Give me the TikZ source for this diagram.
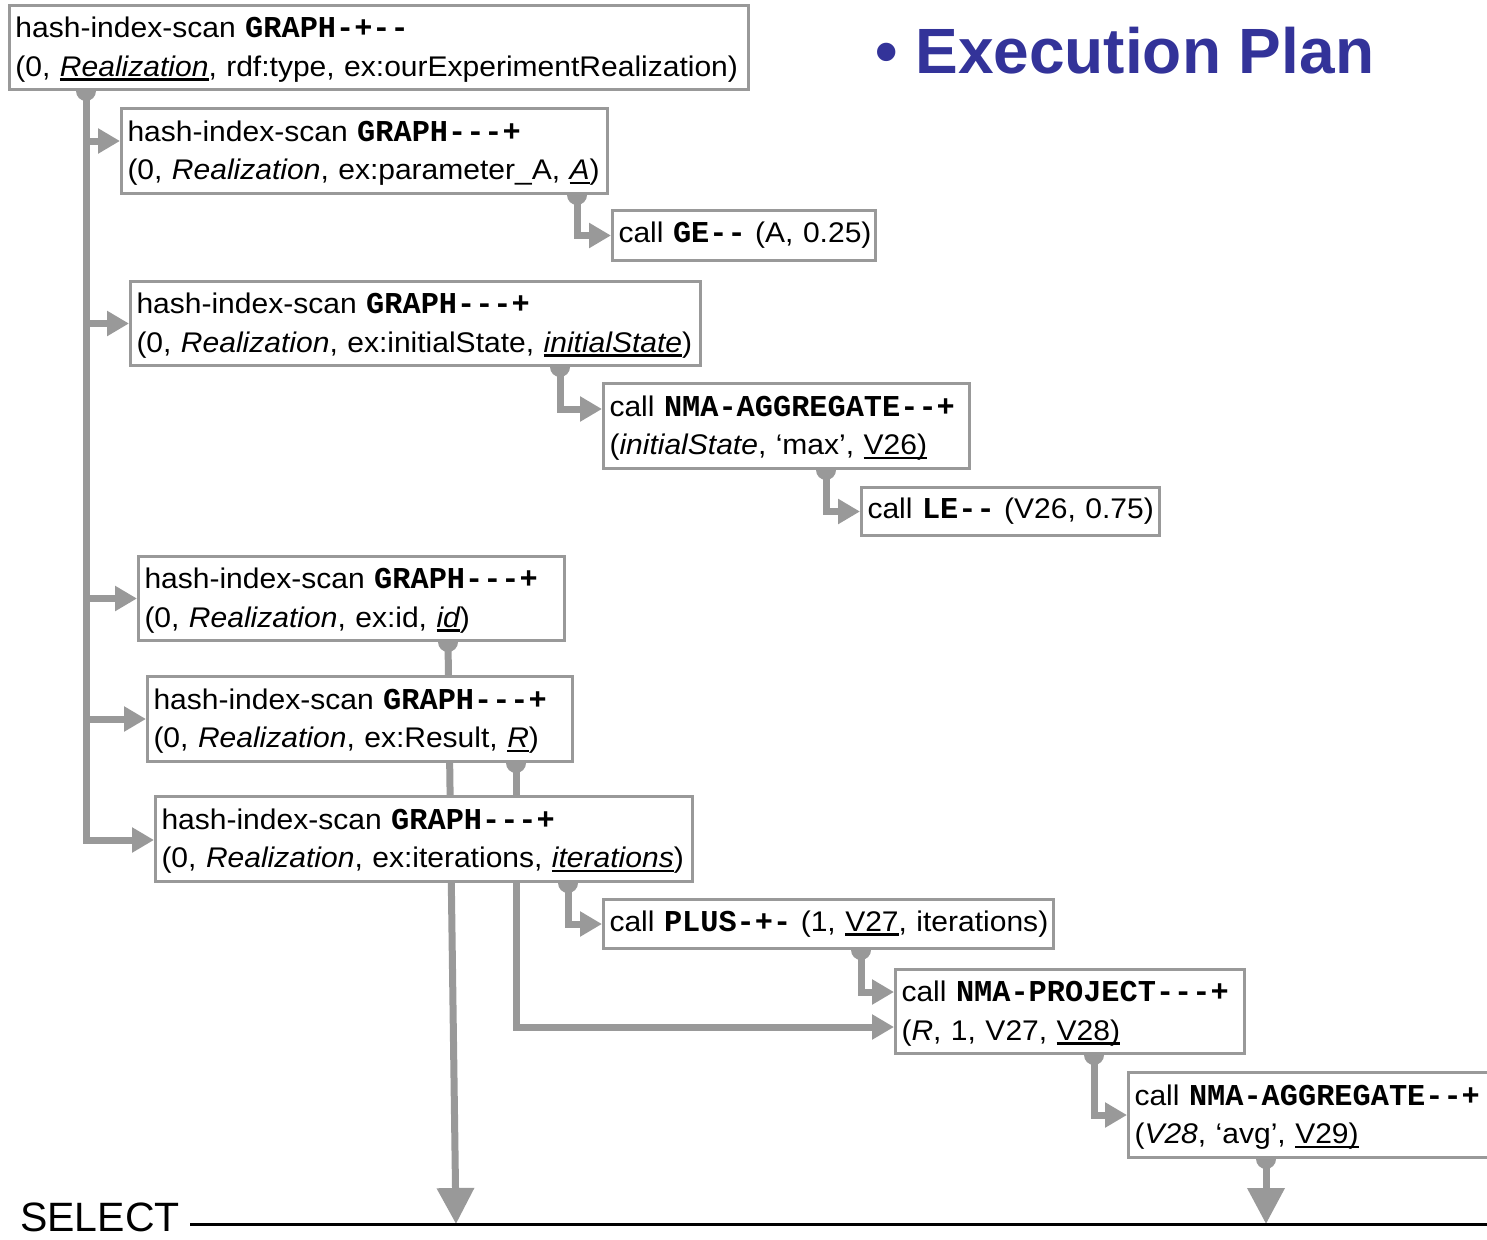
\documentclass[tikz,border=0pt]{standalone}
\usepackage{fontspec}
\setmainfont{Liberation Sans}
\setmonofont{Liberation Mono}
\newfontfamily\planfont{Liberation Sans}[FakeStretch=1.057]
\usetikzlibrary{arrows.meta}

\definecolor{gc}{RGB}{153,153,153}
\definecolor{titleblue}{RGB}{51,51,153}

\pgfdeclarelayer{flow}
\pgfsetlayers{flow,main}

% operator names in bold typewriter
\newcommand\op[1]{{\fontsize{30.3}{38.5}\selectfont\ttfamily\bfseries #1}}
% thick underline for bound variables
\newcommand\uln[1]{\setbox0=\hbox{#1}\rlap{\rule[-4.5pt]{\wd0}{2.6pt}}\box0}
% top strut for two-line operator boxes
\newcommand\topstrut{\rule{0pt}{25pt}}

\tikzset{
  plan/.style={draw=gc, line width=3pt, fill=white, inner xsep=6pt, inner ysep=0pt,
    align=left, anchor=north west, font=\planfont\fontsize{28.4}{38.5}\selectfont},
  conn/.style={draw=gc, line width=7pt},
  sarrow/.style={-{Triangle[length=22pt,width=24pt]}},
  barrow/.style={-{Triangle[length=36pt,width=36pt]}},
  srcdot/.style={fill=gc},
}

\begin{document}
\begin{tikzpicture}[x=1pt,y=-1pt]
\useasboundingbox (0,0) rectangle (1487,1239);
\clip (0,0) rectangle (1487,1239);

% ---- plan operators ----
\path
  node[plan, text width=727pt, minimum height=84pt] (b1) at (8,4)
    {\topstrut hash-index-scan \op{GRAPH-+--}\\(0, \uln{\itshape Realization}, rdf:type, ex:ourExperimentRealization)}
  node[plan, text width=474pt, minimum height=85pt] (b2) at (120,107)
    {\topstrut hash-index-scan \op{GRAPH---+}\\(0, \textit{Realization}, ex:parameter\_A, \uln{\itshape A})}
  node[plan, text width=251pt, minimum height=50pt] (ge) at (611,209)
    {\mbox{call \op{GE--} (A, 0.25)}}
  node[plan, text width=558pt, minimum height=84pt] (b4) at (129,280)
    {\topstrut hash-index-scan \op{GRAPH---+}\\(0, \textit{Realization}, ex:initialState, \uln{\itshape initialState})}
  node[plan, text width=354pt, minimum height=85pt] (agg1) at (602,382)
    {\topstrut call \op{NMA-AGGREGATE--+}\\(\textit{initialState}, ‘max’, \uln{V26)}}
  node[plan, text width=286pt, minimum height=48pt] (le) at (860,486)
    {\mbox{call \op{LE--} (V26, 0.75)}}
  node[plan, text width=414pt, minimum height=84pt] (b7) at (137,555)
    {\topstrut hash-index-scan \op{GRAPH---+}\\(0, \textit{Realization}, ex:id, \uln{\itshape id})}
  node[plan, text width=413pt, minimum height=85pt] (b8) at (146,675)
    {\topstrut hash-index-scan \op{GRAPH---+}\\(0, \textit{Realization}, ex:Result, \uln{\itshape R})}
  node[plan, text width=525pt, minimum height=85pt] (b9) at (154,795)
    {\topstrut hash-index-scan \op{GRAPH---+}\\(0, \textit{Realization}, ex:iterations, \uln{\itshape iterations})}
  node[plan, text width=438pt, minimum height=49pt] (plus) at (602,898)
    {\mbox{call \op{PLUS-+-} (1, \uln{V27}, iterations)}}
  node[plan, text width=337pt, minimum height=84pt] (proj) at (894,968)
    {\topstrut call \op{NMA-PROJECT---+}\\(\textit{R}, 1, V27, \uln{V28)}}
  node[plan, text width=388pt, minimum height=85pt] (agg2) at (1127,1071)
    {\topstrut call \op{NMA-AGGREGATE--+}\\(\textit{V28}, ‘avg’, \uln{V29)}};

% ---- heading ----
\node[font=\fontsize{64}{70}\selectfont\bfseries, text=titleblue, anchor=base west, inner sep=0pt]
  (title) at (875,74) {• Execution Plan};

% ---- result line ----
\node[font=\fontsize{41}{48}\selectfont, anchor=base west, inner sep=0pt] (sel) at (20,1231) {SELECT};
\coordinate (selline) at (190,1224);
\coordinate (selend) at (1490,1224);
\coordinate (trunk) at (86,0);
\draw[black, line width=3pt] (selline) -- (selend);

% ---- data flow (behind the operator boxes) ----
\begin{pgfonlayer}{flow}
  % outer scan feeds every inner scan along one trunk
  \draw[conn, sarrow] (b1.south -| trunk) |- (b2.west |- 0,141);
  \draw[conn, sarrow] (b1.south -| trunk) |- (b4.west);
  \draw[conn, sarrow] (b1.south -| trunk) |- (b7.west);
  \draw[conn, sarrow] (b1.south -| trunk) |- (b8.west);
  \draw[conn, sarrow] (b1.south -| trunk) |- (b9.west |- 0,840);
  \fill[srcdot] (b1.south -| trunk) circle (10pt);

  \draw[conn, sarrow] (b2.south -| 577,0) |- (ge.west);
  \fill[srcdot] (b2.south -| 577,0) circle (10pt);

  \draw[conn, sarrow] (b4.south -| 560,0) |- (agg1.west |- 0,409);
  \fill[srcdot] (b4.south -| 560,0) circle (10pt);

  \draw[conn, sarrow] (agg1.south -| 826,0) |- (le.west);
  \fill[srcdot] (agg1.south -| 826,0) circle (10pt);

  \draw[conn, barrow] (b7.south -| 448,0) -- (selline -| 456,0);
  \fill[srcdot] (b7.south -| 448,0) circle (10pt);

  \draw[conn, sarrow] (b8.south -| 516,0) |- (proj.west |- 0,1027);
  \fill[srcdot] (b8.south -| 516,0) circle (10pt);

  \draw[conn, sarrow] (b9.south -| 568,0) |- (plus.west);
  \fill[srcdot] (b9.south -| 568,0) circle (10pt);

  \draw[conn, sarrow] (plus.south -| 861,0) |- (proj.west |- 0,992);
  \fill[srcdot] (plus.south -| 861,0) circle (10pt);

  \draw[conn, sarrow] (proj.south -| 1094,0) |- (agg2.west);
  \fill[srcdot] (proj.south -| 1094,0) circle (10pt);

  \draw[conn, barrow] (agg2.south -| 1266,0) -- (selline -| 1266,0);
  \fill[srcdot] (agg2.south -| 1266,0) circle (10pt);
\end{pgfonlayer}
\end{tikzpicture}
\end{document}
